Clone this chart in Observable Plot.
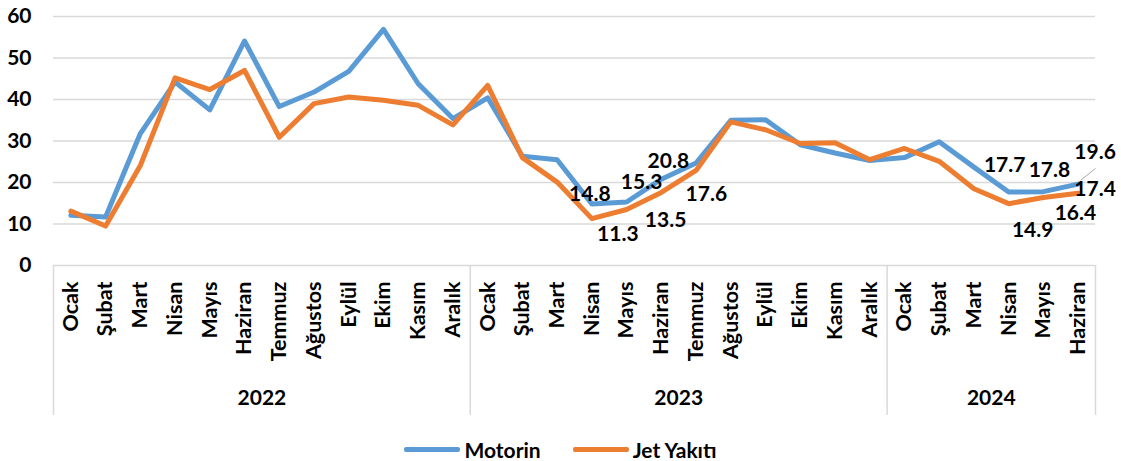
<!DOCTYPE html>
<html><head><meta charset="utf-8">
<script src="https://cdn.jsdelivr.net/npm/d3@7"></script>
<script src="https://cdn.jsdelivr.net/npm/@observablehq/plot@0.6"></script>
<style>
body{margin:0;background:#fff;font-family:Lato,"Open Sans",sans-serif;font-weight:bold;}
#legend{display:flex;justify-content:center;align-items:center;height:31px;margin-top:8px;font-size:21px;color:#000;}
.item{display:flex;align-items:center;}
.item + .item{margin-left:32px;}
.sw{width:56px;height:4.5px;border-radius:2px;margin-right:4px;}
</style></head><body><div id="chart"></div><div id="legend"></div>
<script>
const months = ["Ocak","Şubat","Mart","Nisan","Mayıs","Haziran","Temmuz","Ağustos","Eylül","Ekim","Kasım","Aralık"];
const years = ["2022","2023","2024"];
const monthsPerYear = [12,12,6];
const motorin = [12.1, 11.7, 31.8, 44.2, 37.5, 54.1, 38.3, 41.8, 46.8, 56.9, 43.8, 35.4,
                 40.4, 26.3, 25.5, 14.8, 15.3, 20.8, 24.7, 35.0, 35.1, 29.1, 27.1, 25.3,
                 26.0, 29.8, 23.7, 17.7, 17.8, 19.6];
const jet = [13.1, 9.5, 24.1, 45.2, 42.4, 47.0, 30.9, 39.0, 40.6, 39.8, 38.6, 33.9,
             43.4, 26.0, 20.1, 11.3, 13.5, 17.6, 22.9, 34.6, 32.7, 29.4, 29.6, 25.5,
             28.2, 25.1, 18.5, 14.9, 16.4, 17.4];
const yTicks = [0, 10, 20, 30, 40, 50, 60];
const seriesNames = ["Motorin", "Jet Yakıtı"];
const colors = ["#5B9BD5", "#ED7D31"];

// label placement (pixel offsets from the point), as in the reference
const labelOffsets = [
  {s: 0, i: 15, dx: -2, dy: -10}, {s: 0, i: 16, dx: 15, dy: -20}, {s: 0, i: 17, dx: 7, dy: -18},
  {s: 1, i: 15, dx: 26, dy: 16}, {s: 1, i: 16, dx: 39, dy: 11}, {s: 1, i: 17, dx: 45, dy: 2},
  {s: 0, i: 27, dx: -4, dy: -27}, {s: 0, i: 28, dx: 6, dy: -21}, {s: 0, i: 29, dx: 17, dy: -32},
  {s: 1, i: 27, dx: 24, dy: 27}, {s: 1, i: 28, dx: 32, dy: 16}, {s: 1, i: 29, dx: 17, dy: -4}
];

const rows = [];
let idx = 0;
years.forEach((yr, k) => {
  for (let m = 0; m < monthsPerYear[k]; m++) {
    rows.push({i: idx, year: yr, month: months[m], motorin: motorin[idx], jet: jet[idx]});
    idx++;
  }
});
const n = rows.length;
const bounds = [0];
monthsPerYear.reduce((a, c) => { bounds.push(a + c); return a + c; }, 0);
const yearCenters = years.map((y, k) => (bounds[k] + bounds[k + 1]) / 2);
const series = [motorin, jet];

const labelMarks = labelOffsets.map(o => Plot.text([rows[o.i]], {
  x: d => d.i + 0.5, y: d => series[o.s][d.i],
  text: d => series[o.s][d.i].toFixed(1),
  dx: o.dx, dy: o.dy, fontSize: 21, fontWeight: "bold", fill: "#000"
}));

const last = rows[n - 1];
const chart = Plot.plot({
  width: 1121, height: 426,
  marginLeft: 53, marginRight: 26, marginTop: 16, marginBottom: 161,
  style: {fontFamily: "Lato, 'Open Sans', sans-serif", fontWeight: "bold", color: "#000", background: "#fff", overflow: "visible"},
  x: {domain: [0, n]},
  y: {domain: [0, 60]},
  marks: [
    Plot.ruleY(yTicks.slice(1), {stroke: "#d9d9d9", strokeWidth: 1.5}),
    Plot.ruleY([0], {stroke: "#d9d9d9", strokeWidth: 1.5}),
    Plot.axisX({ticks: bounds, tickSize: 150, tickFormat: () => "", stroke: "#d9d9d9", strokeWidth: 1.5, strokeOpacity: 1, label: null}),
    Plot.axisX({ticks: rows.map(r => r.i + 0.5), tickSize: 0, tickPadding: 16, tickRotate: -90,
      tickFormat: d => rows[Math.floor(d)].month, fontSize: 21.5, fontWeight: "bold", fill: "#000", label: null}),
    Plot.axisX({ticks: yearCenters, tickSize: 0, tickPadding: 125,
      tickFormat: d => years[yearCenters.indexOf(d)], fontSize: 21, fontWeight: "bold", fill: "#000", label: null}),
    Plot.axisY({ticks: yTicks, tickSize: 0, tickPadding: 22, fontSize: 21, fontWeight: "bold", fill: "#000", label: null}),
    Plot.lineY(rows, {x: d => d.i + 0.5, y: "motorin", stroke: colors[0], strokeWidth: 5, strokeLinejoin: "round", strokeLinecap: "round"}),
    Plot.lineY(rows, {x: d => d.i + 0.5, y: "jet", stroke: colors[1], strokeWidth: 5, strokeLinejoin: "round", strokeLinecap: "round"}),
    Plot.link([last], {x1: d => d.i + 0.57, y1: d => d.motorin + 0.9, x2: d => d.i + 1, y2: d => d.motorin + 3.8, stroke: "#a6a6a6", strokeWidth: 1}),
    ...labelMarks
  ]
});
document.getElementById("chart").appendChild(chart);

const legend = document.getElementById("legend");
seriesNames.forEach((name, k) => {
  const it = document.createElement("div");
  it.className = "item";
  const sw = document.createElement("div");
  sw.className = "sw";
  sw.style.background = colors[k];
  const t = document.createElement("span");
  t.textContent = name;
  it.appendChild(sw); it.appendChild(t);
  legend.appendChild(it);
});
</script></body></html>
